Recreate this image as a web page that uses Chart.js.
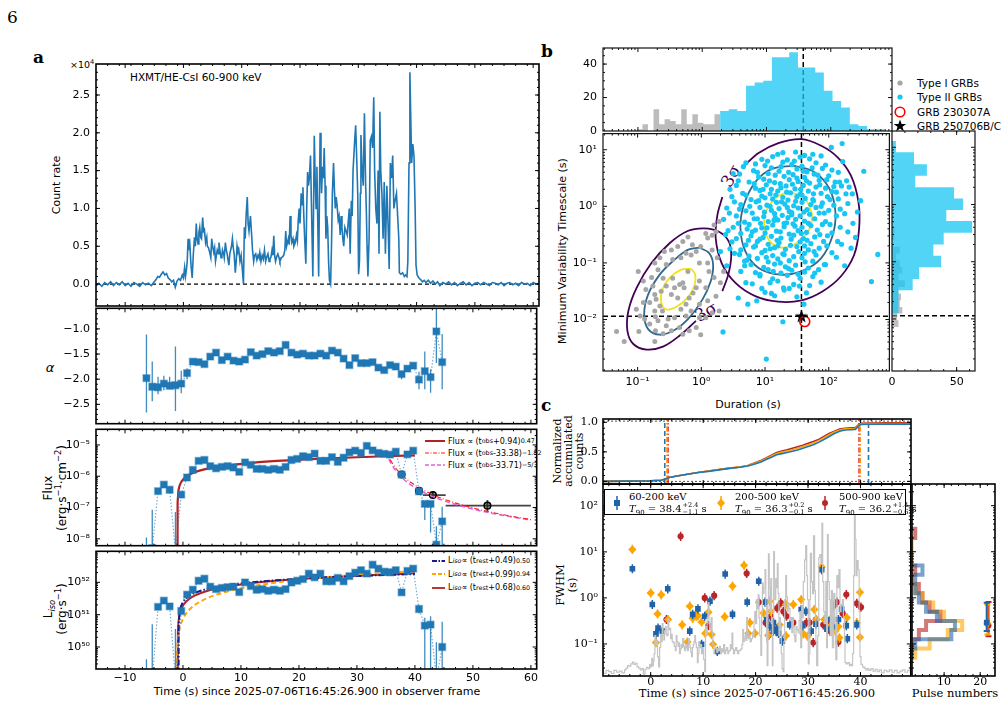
<!DOCTYPE html>
<html>
<head>
<meta charset="utf-8">
<script src="https://cdn.jsdelivr.net/npm/chart.js@4.4.1/dist/chart.umd.min.js"></script>
<style>
  body { margin: 0; background: #fff; }
  #fig { position: relative; width: 1006px; height: 705px; overflow: hidden; font-family: 'DejaVu Sans', sans-serif; color: #000; }
  #fig canvas { position: absolute; }
  .tx { position: absolute; white-space: nowrap; line-height: 1; }
  .mid { transform: translate(-50%, -50%); }
  .rot { transform: translate(-50%, -50%) rotate(-90deg); text-align: center; }
  .serif { font-family: 'DejaVu Serif', serif; }
  .lg { position: absolute; white-space: nowrap; }
  .lg > div { display: flex; align-items: center; }
  .lg svg { margin-right: 3px; flex: none; }
  sub, sup { font-size: 70%; line-height: 0; }
  .lg sub, .lg sup { font-size: 80%; }
  .ud { display: inline-flex; flex-direction: column; font-size: 6.5px; line-height: 7px; vertical-align: middle; margin-left: 1px; }
</style>
</head>
<body>
<div id="fig">
  <div class="tx serif" style="left:7px;top:9px;font-size:17px">6</div>
  <div class="tx serif" style="left:33px;top:49px;font-size:17px;font-weight:bold">a</div>
  <div class="tx serif" style="left:541px;top:43px;font-size:17px;font-weight:bold">b</div>
  <div class="tx serif" style="left:541px;top:397px;font-size:17px;font-weight:bold">c</div>

  <div class="tx" style="left:70px;top:60px;font-size:9.5px">×10<sup>4</sup></div>
  <div class="tx" style="left:130px;top:72px;font-size:10.5px">HXMT/HE-CsI 60-900 keV</div>
  <div class="tx rot" style="left:56px;top:185px;font-size:11px">Count rate</div>
  <div class="tx mid" style="left:50px;top:367px;font-size:13px;font-style:italic">α</div>
  <div class="tx rot" style="left:55px;top:488px;font-size:12px;line-height:14px">Flux<br>(erg·s<sup>−1</sup>·cm<sup>−2</sup>)</div>
  <div class="tx rot" style="left:55px;top:609px;font-size:12px;line-height:14px">L<sub><i>iso</i></sub><br>(erg·s<sup>−1</sup>)</div>
  <div class="tx mid" style="left:317px;top:691px;font-size:11px">Time (s) since 2025-07-06T16:45:26.900 in observer frame</div>

  <div class="lg" style="left:425px;top:435px;font-size:8px">
    <div style="height:12px"><svg width="20" height="6"><line x1="0" y1="3" x2="20" y2="3" stroke="#b22222" stroke-width="2"/></svg>Flux ∝ (t<sub>obs</sub>+0.94)<sup>0.47</sup></div>
    <div style="height:12px"><svg width="20" height="6"><line x1="0" y1="3" x2="20" y2="3" stroke="#ff1a1a" stroke-width="1.2" stroke-dasharray="4 1.5 1 1.5"/></svg>Flux ∝ (t<sub>obs</sub>-33.38)<sup>−1.82</sup></div>
    <div style="height:12px"><svg width="20" height="6"><line x1="0" y1="3" x2="20" y2="3" stroke="#e060e0" stroke-width="1.5" stroke-dasharray="4 2"/></svg>Flux ∝ (t<sub>obs</sub>-33.71)<sup>−5/3</sup></div>
  </div>
  <div class="lg" style="left:432px;top:554px;font-size:8px">
    <div style="height:13.5px"><svg width="13" height="6"><line x1="0" y1="3" x2="13" y2="3" stroke="#1a1a8c" stroke-width="1.8" stroke-dasharray="5 1.5 1.5 1.5"/></svg>L<sub><i>iso</i></sub> ∝ (t<sub>rest</sub>+0.49)<sup>0.50</sup></div>
    <div style="height:13.5px"><svg width="13" height="6"><line x1="0" y1="3" x2="13" y2="3" stroke="#ffa500" stroke-width="1.8" stroke-dasharray="4 2"/></svg>L<sub><i>iso</i></sub> ∝ (t<sub>rest</sub>+0.99)<sup>0.94</sup></div>
    <div style="height:13.5px"><svg width="13" height="6"><line x1="0" y1="3" x2="13" y2="3" stroke="#b22222" stroke-width="1.8"/></svg>L<sub><i>iso</i></sub> ∝ (t<sub>rest</sub>+0.68)<sup>0.60</sup></div>
  </div>

  <div class="tx rot" style="left:562px;top:251px;font-size:11px">Minimum Variability Timescale (s)</div>
  <div class="tx mid" style="left:748px;top:404px;font-size:11px">Duration (s)</div>
  <div class="tx mid serif" style="left:731px;top:176px;font-size:17px;color:#440154;transform:translate(-50%,-50%) rotate(-60deg)">3σ</div>
  <div class="tx mid serif" style="left:706px;top:312px;font-size:17px;color:#440154;transform:translate(-50%,-50%) rotate(-30deg)">3σ</div>
  <div class="lg" style="left:894px;top:76px;font-size:10.5px">
    <div style="height:14.3px"><svg width="20" height="10"><circle cx="6" cy="5" r="2.6" fill="#a6a6a6"/></svg>Type I GRBs</div>
    <div style="height:14.3px"><svg width="20" height="10"><circle cx="6" cy="5" r="2.6" fill="#17c6f2"/></svg>Type II GRBs</div>
    <div style="height:14.3px"><svg width="20" height="12"><circle cx="6" cy="6" r="4.8" fill="none" stroke="#ff0000" stroke-width="1.6"/></svg>GRB 230307A</div>
    <div style="height:14.3px"><svg width="20" height="14"><polygon points="6,0.5 7.6,5 12.2,5 8.5,7.8 9.9,12.5 6,9.6 2.1,12.5 3.5,7.8 -0.2,5 4.4,5" fill="#000"/></svg>GRB 250706B/C</div>
  </div>

  <div class="tx rot serif" style="left:568px;top:451px;font-size:11px;line-height:11px">Normalized<br>accumulated<br>counts</div>
  <div class="tx rot serif" style="left:566px;top:585px;font-size:11.5px;line-height:12px">FWHM<br>(s)</div>
  <div class="tx mid serif" style="left:757px;top:694px;font-size:11.5px">Time (s) since 2025-07-06T16:45:26.900</div>
  <div class="tx mid serif" style="left:955px;top:694px;font-size:11.5px">Pulse numbers</div>
</div>

<script>
// ---------------- panel a : light curve (x10^4 counts/s), [time, rate] ----------------
const lcPoints = [
  [-15,-0.02],[-14.5,0.01],[-14,-0.03],[-13.5,0.02],[-13,-0.01],[-12.5,0.03],[-12,-0.02],[-11.5,0.02],[-11,-0.01],[-10.5,0.03],
  [-10,-0.02],[-9.5,0.01],[-9,-0.03],[-8.5,0.02],[-8,0.0],[-7.5,-0.03],[-7,0.02],[-6.5,-0.01],[-6,0.01],[-5.5,-0.02],[-5,0.03],
  [-4.7,0.06],[-4.4,0.1],[-4.1,0.09],[-3.8,0.13],[-3.5,0.16],[-3.2,0.12],[-2.9,0.14],[-2.6,0.08],[-2.3,0.06],[-2.0,0.03],
  [-1.7,0.05],[-1.4,-0.04],[-1.1,0.04],[-0.8,0.07],[-0.5,0.05],[-0.2,0.12],
  [0.0,0.08],[0.2,0.22],[0.35,0.1],[0.5,0.18],[0.65,0.3],[0.8,0.6],[0.95,0.45],[1.1,0.52],[1.3,0.25],[1.5,0.08],
  [1.7,0.4],[1.9,0.62],[2.05,0.5],[2.2,0.8],[2.35,0.6],[2.5,0.53],[2.65,0.68],[2.8,0.75],[2.95,0.62],[3.1,0.6],
  [3.3,0.88],[3.45,0.7],[3.6,0.72],[3.8,0.55],[4.0,0.62],[4.1,0.5],[4.3,0.48],[4.5,0.42],[4.7,0.35],[4.85,0.6],
  [5.0,0.5],[5.2,0.42],[5.35,0.48],[5.5,0.3],[5.65,0.38],[5.8,0.45],[6.0,0.4],[6.1,0.55],[6.3,0.42],[6.45,0.35],
  [6.6,0.38],[6.7,0.45],[6.9,0.4],[7.0,0.35],[7.2,0.55],[7.35,0.45],[7.5,0.4],[7.65,0.32],[7.8,0.25],[7.95,0.4],
  [8.1,0.45],[8.25,0.5],[8.4,0.6],[8.55,0.48],[8.7,0.4],[8.9,0.15],[9.05,0.3],[9.2,0.5],[9.35,0.42],[9.5,0.45],
  [9.7,0.3],[9.9,0.38],[10.1,0.2],[10.3,0.0],[10.45,0.75],[10.6,0.6],[10.75,0.9],[10.95,1.15],[11.1,0.8],[11.25,0.7],
  [11.5,0.9],[11.7,0.65],[11.85,0.45],[12.05,0.3],[12.2,0.38],[12.4,0.4],[12.6,0.32],[12.8,0.38],[12.95,0.35],[13.1,0.42],
  [13.3,0.3],[13.5,0.38],[13.7,0.33],[13.9,0.45],[14.1,0.3],[14.3,0.36],[14.5,0.4],[14.7,0.3],[14.85,0.34],[15.0,0.35],
  [15.2,0.45],[15.35,0.38],[15.5,0.64],[15.65,0.38],[15.8,0.3],[16.0,0.36],[16.2,0.4],[16.4,0.35],[16.55,0.3],[16.8,0.35],
  [17.0,0.36],[17.2,0.38],[17.4,0.45],[17.55,0.7],[17.7,0.5],[17.85,0.55],[18.0,0.6],[18.15,0.52],[18.3,0.9],[18.45,0.65],
  [18.6,0.55],[18.8,0.6],[18.95,0.5],[19.2,0.55],[19.4,0.65],[19.55,0.58],[19.7,0.85],[19.85,1.0],[20.0,0.8],[20.2,1.2],
  [20.35,1.05],[20.5,1.28],[20.65,0.9],[20.8,0.6],[21.0,0.27],[21.15,1.0],[21.3,1.48],[21.45,1.3],[21.6,1.4],[21.8,1.7],
  [21.95,1.1],[22.1,0.5],[22.2,0.1],[22.35,1.2],[22.45,1.96],[22.6,1.4],[22.75,1.0],[22.9,1.55],[23.05,0.8],[23.2,0.1],
  [23.3,0.9],[23.45,2.0],[23.6,1.5],[23.7,1.2],[23.85,1.55],[24.0,1.4],[24.15,1.8],[24.3,1.3],[24.45,0.6],[24.6,0.9],
  [24.75,0.75],[24.9,0.3],[25.05,0.05],[25.25,0.0],[25.4,0.5],[25.55,1.2],[25.75,1.6],[25.9,1.25],[26.05,1.0],[26.2,1.15],
  [26.35,1.05],[26.55,0.85],[26.7,0.9],[26.9,0.65],[27.05,0.9],[27.2,0.75],[27.35,0.6],[27.5,0.5],[27.7,0.75],[27.9,0.7],
  [28.1,0.65],[28.3,0.85],[28.45,1.0],[28.6,0.4],[28.8,1.1],[28.95,0.9],[29.1,1.5],[29.35,1.86],[29.55,2.1],[29.75,1.6],
  [29.9,1.2],[30.05,0.13],[30.2,0.3],[30.35,1.2],[30.45,1.97],[30.65,1.5],[30.85,1.3],[31.05,2.26],[31.25,1.35],[31.4,0.9],
  [31.5,0.5],[31.65,0.1],[31.85,0.6],[32.05,1.9],[32.25,1.95],[32.45,1.8],[32.65,2.47],[32.8,1.5],[33.0,1.0],[33.2,0.8],
  [33.4,1.5],[33.55,0.4],[33.7,2.28],[33.85,1.5],[34.05,1.2],[34.25,0.6],[34.45,1.35],[34.65,0.4],[34.9,1.3],[35.1,0.8],
  [35.3,0.2],[35.5,1.6],[35.7,1.4],[35.9,1.7],[36.1,1.0],[36.3,1.1],[36.55,1.2],[36.75,0.9],[36.95,0.6],[37.05,0.15],
  [37.3,0.13],[37.6,0.15],[37.9,0.1],[38.1,0.12],[38.35,0.1],[38.5,0.3],[38.7,1.6],[38.85,2.8],[39.0,2.2],[39.15,1.6],
  [39.35,1.85],[39.55,1.7],[39.75,1.0],[39.9,0.25],[40.1,0.12],[40.4,0.08],[40.7,0.06],[41.0,0.03],[41.3,0.05],[41.6,0.02],
  [42.0,0.05],[42.4,0.01],[42.8,0.04],[43.2,0.0],[43.6,0.03],[44.0,-0.02],[44.5,0.02],[45,0.0],[45.5,0.03],[46,-0.01],
  [46.5,0.02],[47,-0.02],[47.5,0.01],[48,0.03],[48.5,-0.01],[49,0.02],[49.5,-0.02],[50,0.01],[50.5,0.02],[51,-0.01],
  [51.5,0.02],[52,0.0],[52.5,-0.02],[53,0.02],[53.5,0.01],[54,-0.01],[54.5,0.02],[55,-0.02],[55.5,0.01],[56,0.02],
  [56.5,-0.01],[57,0.01],[57.5,-0.02],[58,0.02],[58.5,0.0],[59,0.01],[59.5,-0.02],[60,0.02],[60.5,0.0],[61,0.01]
];

// time-resolved spectral bins
const binTime = [-6.3,-5.3,-4.3,-3.3,-2.3,-1.3,-0.3,0.7,1.7,2.7,3.7,4.7,5.7,6.7,7.7,8.7,9.7,10.7,11.7,12.7,13.7,14.7,15.7,16.7,17.7,18.7,19.7,20.7,21.7,22.7,23.7,24.7,25.7,26.7,27.7,28.7,29.7,30.7,31.7,32.7,33.7,34.7,35.7,36.7,37.7,38.7,39.7,40.7,41.7,42.7,43.7,44.7];
const alphaVals = [-1.98,-2.15,-2.16,-2.09,-2.13,-2.12,-2.09,-1.88,-1.65,-1.66,-1.70,-1.55,-1.47,-1.62,-1.55,-1.63,-1.65,-1.61,-1.46,-1.53,-1.50,-1.44,-1.47,-1.44,-1.32,-1.47,-1.51,-1.49,-1.53,-1.53,-1.49,-1.53,-1.43,-1.47,-1.59,-1.72,-1.58,-1.68,-1.68,-1.66,-1.77,-1.82,-1.72,-1.75,-1.90,-1.79,-1.73,-2.01,-1.84,-1.96,-1.05,-1.66];
const fluxVals = [3e-9,5e-9,3.35e-7,5.4e-7,3.7e-7,4e-9,2.6e-7,9.1e-7,1.6e-6,3.1e-6,3.3e-6,2.1e-6,1.8e-6,2.0e-6,2.1e-6,1.9e-6,1.37e-6,2.76e-6,2.3e-6,1.73e-6,1.73e-6,1.6e-6,1.73e-6,1.6e-6,2.0e-6,3.3e-6,3.6e-6,4.4e-6,4.1e-6,5.3e-6,3.1e-6,3.1e-6,4.1e-6,2.9e-6,3.9e-6,5.8e-6,6.6e-6,5.6e-6,9.3e-6,6.7e-6,5.6e-6,5.2e-6,4.9e-6,6.1e-6,1.13e-6,5.0e-6,6.6e-6,3.3e-7,1.3e-7,1.3e-7,6.5e-9,3.6e-8];
const lisoVals = [1e49,1e49,1.74e51,2.7e51,1.8e51,1e49,1.3e51,4.2e51,5.9e51,1.12e52,1.29e52,7.4e51,6.2e51,6.7e51,7.1e51,7.4e51,5.0e51,1.0e52,7.7e51,5.9e51,6.2e51,5.5e51,5.9e51,5.5e51,6.2e51,9.8e51,1.12e52,1.26e52,1.87e52,1.42e52,1.87e52,1.07e52,1.07e52,1.38e52,1.07e52,1.56e52,2.0e52,2.37e52,1.87e52,3.5e52,2.66e52,2.15e52,2.05e52,2.37e52,4.9e51,2.25e52,2.66e52,1.5e51,4.6e50,4.9e50,1e49,1.0e50];
// visible error bars: [time, low, high]
const alphaErr = [[-6.3,-2.66,-1.11],[-5.3,-2.44,-1.65],[-4.3,-2.3,-1.95],[-3.3,-2.22,-1.93],[-2.3,-2.2,-1.95],[-1.3,-2.63,-1.35],[-0.3,-2.28,-1.83],[0.7,-2.0,-1.78],[37.7,-2.0,-1.83],[40.7,-2.2,-1.85],[41.7,-2.2,-1.45],[42.7,-2.27,-1.8],[43.7,-1.68,-0.4],[44.7,-2.2,-1.1]];
const fluxErr = [[-6.3,1e-10,1.1e-8],[-5.3,1e-10,8.5e-8],[-1.3,1e-10,7.2e-8],[41.7,4e-8,1.6e-7],[42.7,1.6e-8,1.6e-7],[43.7,1e-10,2.5e-8],[44.7,1e-10,1.05e-7]];
const lisoErr = [[-6.3,1e47,4.2e49],[-5.3,1e47,5.1e50],[-1.3,1e47,3.6e50],[40.7,1.1e51,2.0e51],[41.7,1e47,8e50],[42.7,1e47,9e50],[43.7,1e47,1.4e50],[44.7,1e47,6e50]];
// other-instrument flux points
const extTime = [37.7, 40.7, 43.1, 52.5];
const extFlux = [1.13e-6, 3.4e-7, 2.5e-7, 1.15e-7];
const extTimeErr = [null, null, [41.4, 45.3], [45.3, 60]];
const extFluxErr = [[0.95e-6, 1.3e-6], [3.0e-7, 3.9e-7], [1.9e-7, 3.3e-7], [7.5e-8, 1.75e-7]];
// fitted curves
const fitRiseT = [-0.94,-0.93,-0.9,-0.8,-0.6,-0.2,0.5,1.5,3,5,8,12,17,23,30,35,40];
const fitRiseF = [1e-10,9.3e-8,1.78e-7,3.2e-7,4.86e-7,7.0e-7,9.6e-7,1.23e-6,1.54e-6,1.86e-6,2.26e-6,2.69e-6,3.14e-6,3.59e-6,4.05e-6,4.35e-6,4.62e-6];
const fitDecayT = [35,35.5,36,37,38,40,42,45,50,55,60];
const fitDecayF = [6.7e-6,4.1e-6,2.79e-6,1.55e-6,9.9e-7,5.2e-7,3.2e-7,1.85e-7,9.7e-8,6.0e-8,4.1e-8];
const fitTurbT = [35.5,36,37,38,40,42,45,50,55,60];
const fitTurbF = [3.5e-6,2.34e-6,1.28e-6,8.2e-7,4.33e-7,2.74e-7,1.64e-7,8.9e-8,5.7e-8,4.0e-8];
const fitL1T = [-0.75,-0.74,-0.7,-0.6,-0.4,0,1,2,4,7,10,15,20,25,30,35,40];
const fitL1V = [1e48,2.8e50,6.3e50,1.09e51,1.67e51,2.44e51,3.73e51,4.68e51,6.15e51,7.85e51,9.25e51,1.12e52,1.28e52,1.43e52,1.56e52,1.69e52,1.8e52];
const fitL2T = [-1.1,-1.05,-1.0,-0.9,-0.7,-0.4,0,1,2,4,7,10,15,20,25,30,35,40];
const fitL2V = [1e48,4.1e49,7.8e49,1.5e50,2.88e50,4.87e50,7.45e50,1.37e51,1.97e51,3.15e51,4.86e51,6.54e51,9.28e51,1.2e52,1.46e52,1.72e52,1.98e52,2.24e52];
const fitL3T = [-0.9,-0.89,-0.85,-0.8,-0.7,-0.5,-0.2,0.2,1,2,4,7,10,15,20,25,30,35,40];
const fitL3V = [1e48,1.29e50,3.4e50,5.15e50,7.8e50,1.18e51,1.65e51,2.17e51,3.0e51,3.88e51,5.32e51,7.08e51,8.6e51,1.08e52,1.27e52,1.44e52,1.6e52,1.76e52,1.9e52];

// ---------------- panel b : log10(duration), log10(MVT) ----------------
const typeI = [[-1.33,-2.21],[-1.21,-2.39],[-0.98,-2.21],[-0.73,-2.39],[-0.72,-2.20],[-0.99,-1.15],[-0.91,-1.32],[-0.87,-1.47],[-0.78,-1.26],[-0.76,-1.41],
  [-0.73,-1.56],[-0.71,-1.64],[-0.65,-1.76],[-0.61,-1.85],[-0.73,-1.85],[-0.72,-1.95],[-0.96,-1.94],[-0.81,-2.08],[-0.52,-1.99],[-0.42,-1.97],
  [-0.32,-1.82],[-0.24,-1.73],[-0.19,-1.62],[-0.27,-1.44],[-0.34,-1.38],[-0.42,-1.44],[-0.47,-1.56],[-0.55,-1.41],[-0.60,-1.27],[-0.68,-1.12],
  [-0.73,-1.00],[-0.55,-1.03],[-0.45,-0.94],[-0.32,-0.91],[-0.24,-0.83],[-0.16,-0.86],[-0.08,-0.80],[-0.01,-0.71],[0.10,-0.56],[0.07,-0.48],
  [0.17,-0.51],[0.23,-0.45],[0.20,-0.33],[0.28,-0.27],[0.17,-0.77],[0.25,-0.91],[0.12,-1.15],[0.20,-1.26],[-0.03,-1.32],[-0.08,-1.44],
  [-0.13,-1.53],[-0.03,-1.73],[0.17,-1.88],[0.07,-1.97],[-0.16,-1.85],[-0.24,-1.94],[-0.34,-2.14],[-0.47,-2.20],[-0.08,-2.14],[-0.01,-2.27],
  [-0.65,-0.91],[-0.58,-0.80],[-0.47,-0.77],[-0.37,-0.71],[-0.29,-0.62],[-0.21,-0.54],[-0.14,-0.68],[-0.03,-1.00],[0.07,-1.44],[0.30,-1.35],
  [0.35,-1.15],[-0.81,-1.70],[-0.91,-1.70],[-1.02,-1.82],[-0.55,-2.11],[-0.37,-1.62],[-0.29,-1.35],[-0.21,-1.15],[-0.45,-1.27],[-0.63,-1.50],
  [0.10,-1.67],[0.28,-1.85],[0.23,-1.59],[-0.89,-1.99],[-0.68,-2.02],[-0.19,-2.20],[-0.29,-2.26],[-0.60,-2.25],[-0.03,-1.97],[0.10,-1.00]];
const typeII = [[1.20,0.92],[1.48,0.96],[1.62,0.90],
  [0.95,0.83],[1.12,0.88],[1.35,0.82],[1.55,0.87],[1.70,0.84],[1.88,0.89],
  [0.70,0.77],[1.00,0.72],[1.28,0.78],[1.42,0.74],[1.58,0.71],[1.80,0.77],[1.95,0.73],
  [0.82,0.63],[1.10,0.68],[1.22,0.62],[1.50,0.66],[1.66,0.61],[1.90,0.67],[2.05,0.64],
  [0.60,0.57],[0.90,0.52],[1.05,0.58],[1.30,0.53],[1.44,0.56],[1.62,0.51],[1.77,0.57],[2.00,0.54],
  [0.75,0.43],[0.98,0.48],[1.15,0.42],[1.38,0.47],[1.52,0.44],[1.70,0.41],[1.85,0.46],[2.10,0.43],
  [0.55,0.37],[0.85,0.32],[1.02,0.38],[1.25,0.33],[1.33,0.36],[1.47,0.31],[1.60,0.37],[1.80,0.34],[1.95,0.32],[2.20,0.36],
  [0.65,0.23],[0.92,0.28],[1.08,0.22],[1.20,0.27],[1.40,0.24],[1.55,0.21],[1.68,0.27],[1.88,0.23],[2.05,0.26],
  [0.48,0.17],[0.78,0.12],[0.95,0.18],[1.12,0.13],[1.28,0.16],[1.36,0.11],[1.50,0.17],[1.63,0.14],[1.75,0.12],[1.98,0.17],[2.15,0.13],
  [0.62,0.03],[0.86,0.08],[1.03,0.02],[1.18,0.07],[1.31,0.04],[1.45,0.01],[1.58,0.07],[1.72,0.03],[1.90,0.06],[2.08,0.02],[2.30,0.05],
  [0.40,-0.03],[0.70,-0.08],[0.92,-0.02],[1.10,-0.07],[1.22,-0.04],[1.38,-0.09],[1.52,-0.03],[1.66,-0.06],[1.80,-0.02],[2.00,-0.07],
  [0.55,-0.17],[0.80,-0.12],[0.98,-0.18],[1.15,-0.13],[1.27,-0.16],[1.42,-0.11],[1.55,-0.17],[1.70,-0.14],[1.85,-0.12],[2.12,-0.17],[2.25,-0.13],
  [0.35,-0.23],[0.68,-0.28],[0.88,-0.22],[1.05,-0.27],[1.20,-0.24],[1.34,-0.29],[1.48,-0.23],[1.62,-0.26],[1.78,-0.22],[1.95,-0.27],
  [0.50,-0.37],[0.75,-0.32],[0.95,-0.38],[1.12,-0.33],[1.30,-0.36],[1.44,-0.31],[1.58,-0.37],[1.72,-0.34],[1.90,-0.32],[2.18,-0.37],
  [0.42,-0.43],[0.62,-0.48],[0.85,-0.42],[1.00,-0.47],[1.18,-0.44],[1.38,-0.49],[1.52,-0.43],[1.65,-0.46],[1.82,-0.42],[2.05,-0.47],
  [0.55,-0.57],[0.78,-0.52],[0.92,-0.58],[1.10,-0.53],[1.25,-0.56],[1.45,-0.51],[1.60,-0.57],[1.78,-0.54],[1.98,-0.52],
  [0.48,-0.63],[0.70,-0.68],[0.88,-0.62],[1.05,-0.67],[1.22,-0.64],[1.40,-0.69],[1.55,-0.63],[1.72,-0.66],[1.92,-0.62],[2.20,-0.67],
  [0.62,-0.77],[0.82,-0.72],[1.00,-0.78],[1.15,-0.73],[1.32,-0.76],[1.50,-0.71],[1.68,-0.77],[1.85,-0.74],
  [0.52,-0.83],[0.75,-0.88],[0.95,-0.82],[1.12,-0.87],[1.28,-0.84],[1.45,-0.89],[1.62,-0.83],[1.80,-0.86],[2.05,-0.82],
  [0.68,-0.97],[0.88,-0.92],[1.05,-0.98],[1.20,-0.93],[1.38,-0.96],[1.58,-0.91],[1.75,-0.97],
  [0.78,-1.03],[0.98,-1.08],[1.15,-1.02],[1.32,-1.07],[1.48,-1.04],[1.68,-1.09],[1.95,-1.03],
  [0.85,-1.17],[1.05,-1.12],[1.25,-1.18],[1.42,-1.13],[1.62,-1.16],
  [0.92,-1.23],[1.12,-1.28],[1.35,-1.22],[1.55,-1.27],[1.75,-1.24],
  [0.80,-1.37],[1.20,-1.32],[1.45,-1.38],[1.88,-1.34],[1.00,-1.52],[1.30,-1.48],[1.65,-1.53],[0.58,-1.62],[1.15,-1.58],
  [2.67,-1.33],[2.77,-0.85],[2.21,1.11],[2.55,0.62],[1.02,-2.70],[0.34,-2.22],[1.28,-2.04],[0.68,-1.05],[0.73,-1.73],[0.87,-1.67],
  [1.10,-1.54],[1.29,-1.44],[1.54,-1.41],[1.61,-1.73],[1.78,-1.18],[1.93,-1.03],[2.14,-0.62],[2.35,-0.74],[2.37,0.22],[2.32,0.34],
  [2.17,0.43],[2.04,1.04],[2.22,0.79],
  [0.45,0.30],[0.58,0.45],[0.66,0.70],[0.88,0.60],[1.04,0.80],[1.16,0.55],[1.25,0.70],[1.37,0.60],[1.46,0.80],[1.60,0.62],
  [1.74,0.68],[1.83,0.55],[1.97,0.47],[2.08,0.35],[2.27,0.22],[0.52,0.08],[0.70,0.20],[0.83,0.40],[0.97,0.30],[1.07,0.45],
  [1.17,0.20],[1.24,0.40],[1.34,0.25],[1.43,0.39],[1.56,0.30],[1.65,0.45],[1.76,0.22],[1.86,0.38],[2.02,0.12],[2.12,0.25],
  [0.44,-0.12],[0.60,-0.05],[0.76,0.00],[0.90,0.10],[0.99,-0.10],[1.08,0.00],[1.16,-0.20],[1.26,0.08],[1.35,-0.02],[1.48,0.09],
  [1.61,-0.10],[1.76,0.10],[1.93,-0.12],[2.18,-0.05],[2.38,-0.30],[0.38,-0.50],[0.58,-0.30],[0.72,-0.40],[0.83,-0.22],[0.93,-0.30],
  [1.03,-0.38],[1.14,-0.25],[1.24,-0.45],[1.36,-0.20],[1.47,-0.35],[1.57,-0.48],[1.68,-0.30],[1.86,-0.50],[2.02,-0.32],[2.30,-0.45],
  [0.45,-0.75],[0.60,-0.85],[0.74,-0.60],[0.85,-0.70],[0.97,-0.55],[1.08,-0.75],[1.19,-0.60],[1.30,-0.85],[1.41,-0.58],[1.53,-0.80],
  [1.66,-0.60],[1.77,-0.80],[1.97,-0.70],[2.12,-0.90],[0.62,-1.15],[0.72,-0.95],[0.92,-1.20],[1.02,-0.90],[1.13,-1.15],[1.24,-1.00],
  [1.37,-1.10],[1.52,-1.20],[1.63,-0.98],[1.84,-1.12],[1.08,-1.35],[1.38,-1.45],[0.95,-1.45],[1.70,-1.40],[1.28,0.95],[1.75,0.92],
  [0.85,0.75],[2.15,0.60],[2.28,0.45],[0.50,0.58],[2.45,-0.10],[2.42,-0.55],[0.30,-0.80],[0.40,-1.05],[2.25,-1.05],[1.50,-1.60],
  [0.70,-1.35],[2.50,0.10],[1.10,0.30],[1.30,-0.30],[1.50,0.50],[1.20,-0.70],[1.42,-0.15],[0.80,-0.45],[1.58,0.20],[1.00,0.15],
  [1.88,0.00],[1.62,-0.70]];
// sigma contours, log10 units
const ctrII3 = [[0.650,0.691],[0.899,0.942],[1.209,1.117],[1.571,1.187],[1.882,1.070],[2.140,0.866],[2.347,0.545],[2.466,0.078],[2.477,-0.389],[2.399,-0.856],[2.192,-1.236],[1.907,-1.499],[1.571,-1.662],[1.209,-1.685],[0.847,-1.586],[0.536,-1.353],[0.319,-1.002],[0.226,-0.565],[0.252,-0.156],[0.330,0.165]];
const ctrII2 = [[1.442,0.720],[1.778,0.603],[2.011,0.311],[2.104,-0.097],[2.063,-0.506],[1.882,-0.915],[1.571,-1.148],[1.235,-1.207],[0.899,-1.090],[0.692,-0.798],[0.614,-0.389],[0.666,0.019],[0.847,0.428],[1.106,0.661],[1.442,0.720]];
const ctrII1 = [[1.416,0.241],[1.597,0.165],[1.700,-0.010],[1.737,-0.214],[1.675,-0.448],[1.494,-0.652],[1.261,-0.728],[1.080,-0.623],[0.992,-0.389],[1.012,-0.097],[1.157,0.136],[1.287,0.224],[1.416,0.241]];
const ctrI3 = [[-0.084,-2.024],[-0.343,-2.287],[-0.602,-2.479],[-0.860,-2.532],[-1.067,-2.433],[-1.160,-2.199],[-1.145,-1.849],[-1.016,-1.440],[-0.783,-1.002],[-0.498,-0.652],[-0.214,-0.436],[0.045,-0.389],[0.278,-0.448],[0.433,-0.623],[0.469,-0.886],[0.423,-1.207],[0.330,-1.499]];
const ctrI2 = [[-0.033,-0.728],[0.123,-0.827],[0.185,-1.032],[0.148,-1.323],[0.019,-1.644],[-0.188,-1.966],[-0.421,-2.187],[-0.653,-2.269],[-0.834,-2.170],[-0.897,-1.907],[-0.834,-1.557],[-0.653,-1.207],[-0.421,-0.944],[-0.214,-0.769],[-0.033,-0.728]];
const ctrI1 = [[-0.162,-1.102],[-0.095,-1.207],[-0.110,-1.411],[-0.214,-1.615],[-0.395,-1.779],[-0.550,-1.820],[-0.628,-1.703],[-0.612,-1.469],[-0.498,-1.265],[-0.317,-1.119],[-0.162,-1.102]];
// marginal histograms (log10 bin edges, counts)
const durEdgesI = [-1.016,-0.929,-0.843,-0.757,-0.670,-0.585,-0.498,-0.412,-0.326,-0.240,-0.153,-0.067,0.019,0.106,0.191,0.278];
const durCountsI = [1,4,0,13,4,7,6,4,13,4,10,5,4,4,10];
const durEdgesII = [0.278,0.413,0.547,0.682,0.816,0.951,1.085,1.220,1.354,1.489,1.623,1.758,1.892,2.027,2.161,2.296,2.430,2.565,2.699,2.834];
const durCountsII = [12,13,12,27,29,30,44,44,47,38,38,35,24,18,14,4,3,1,1];
const mvtEdgesII = [1.111,0.912,0.702,0.504,0.300,0.107,-0.097,-0.290,-0.494,-0.699,-0.897,-1.096,-1.300,-1.499,-1.703,-1.907];
const mvtCountsII = [3,17,27,18,48,55,42,62,40,32,38,21,16,5,5];
const mvtEdgesI = [-0.389,-0.506,-0.623,-0.740,-0.856,-0.973,-1.090,-1.207,-1.323,-1.440,-1.557,-1.674,-1.790,-1.907,-2.024,-2.141];
const mvtCountsI = [2,2,0,6,3,6,8,5,10,5,7,6,8,4,5];
// the two highlighted bursts: [duration s, MVT s]
const grbNew = [37.3, 0.0114];
const grbOld = [42.0, 0.0092];

// ---------------- panel c ----------------
const cumTime = [-9,-5,0,2,2.6,3.0,3.5,5,7,9,11,13,15,17,18.5,20,21,22,23,24,25,26,27,28,29,30,31,32,33,34,35,36,37,38,39,39.8,40.2,41.5,45,49.6];
const cumBlue = [0,0.005,0.01,0.02,0.035,0.05,0.065,0.09,0.12,0.15,0.17,0.195,0.22,0.24,0.26,0.30,0.33,0.37,0.41,0.45,0.47,0.49,0.51,0.53,0.56,0.59,0.62,0.66,0.71,0.76,0.81,0.85,0.87,0.875,0.88,0.95,0.965,0.968,0.97,0.97];
const cumOrange = [0,0.005,0.01,0.02,0.035,0.05,0.065,0.09,0.12,0.15,0.175,0.2,0.225,0.245,0.27,0.31,0.345,0.385,0.43,0.47,0.495,0.515,0.535,0.56,0.59,0.62,0.65,0.69,0.74,0.79,0.835,0.87,0.89,0.895,0.9,0.965,0.975,0.978,0.98,0.98];
const cumRed = [0,0.005,0.01,0.02,0.035,0.05,0.065,0.09,0.12,0.15,0.175,0.2,0.225,0.245,0.27,0.32,0.355,0.395,0.445,0.49,0.515,0.535,0.56,0.585,0.61,0.645,0.675,0.71,0.76,0.81,0.85,0.885,0.9,0.905,0.91,0.975,0.985,0.988,0.99,0.99];
const t90Start = [2.67, 3.1, 3.3];   // blue, orange, red
const t90End = [41.5, 39.9, 39.7];
// pulse FWHM: [peak time s, FWHM s]
const pulsesLow = [[-3.5,4.3],[0.3,0.72],[1.0,0.166],[1.4,0.22],[2.2,0.19],[3.25,1.58],[7.45,0.19],[8.0,0.44],[9.0,0.58],[9.7,0.098],[10.3,0.4],[11.3,0.85],[12.7,0.069],[14.2,3.3],[15.6,0.44],[18.4,0.81],[20.6,2.3],[21.8,0.81],[22.1,0.34],[22.7,0.24],[23.4,0.29],[23.4,0.19],[24.0,0.21],[24.4,0.17],[25.1,0.115],[26.5,0.26],[28.7,0.56],[29.0,0.25],[29.6,0.51],[30.6,0.19],[31.5,0.27],[32.6,4.1],[33.6,0.21],[34.3,0.34],[34.7,0.24],[35.8,0.34],[36.4,0.57],[37.3,0.25],[37.5,0.13],[39.3,0.26]];
const pulsesMid = [[-3.5,11.3],[0.0,1.28],[1.0,0.107],[1.3,0.45],[2.0,1.17],[3.3,0.34],[6.0,0.26],[7.0,0.11],[7.45,0.66],[8.0,0.36],[8.7,0.4],[9.0,0.41],[9.7,0.3],[10.4,0.17],[11.0,0.49],[11.6,0.16],[11.9,0.098],[14.1,0.39],[15.6,1.8],[17.8,5.1],[18.6,0.17],[18.9,0.29],[19.9,0.17],[21.5,0.47],[22.4,0.155],[22.7,0.85],[22.9,0.51],[23.4,0.24],[24.6,0.26],[25.8,0.72],[25.8,0.15],[27.2,0.72],[28.7,0.92],[29.1,0.166],[29.9,0.147],[31.2,0.56],[31.6,0.34],[32.6,4.7],[33.1,0.34],[34.2,0.24],[35.2,0.19],[35.8,0.24],[36.0,0.136],[37.4,0.37],[39.3,0.29],[39.9,1.32],[39.9,0.14]];
const pulsesHigh = [[3.0,0.34],[5.7,21.8],[10.3,1.0],[11.0,0.25],[12.1,1.12],[18.3,3.4],[20.6,0.81],[21.9,0.29],[22.5,0.155],[22.9,0.4],[23.5,0.22],[23.9,0.19],[24.1,0.6],[24.8,0.78],[25.3,0.51],[25.9,0.4],[27.2,0.29],[29.7,0.29],[30.3,0.29],[31.0,0.107],[31.5,0.34],[32.9,0.26],[34.1,0.31],[34.2,0.19],[34.8,0.66],[35.5,0.81],[35.8,0.11],[36.6,0.46],[37.3,1.18],[39.3,0.76],[40.1,0.63]];
const fwhmErrDex = 0.1;
// pulse-number histograms of log10(FWHM)
const pulseEdgesLow = [0.7,0.5,0.3,0.1,-0.1,-0.3,-0.5,-0.7,-0.9,-1.1,-1.3];
const pulseCountsLow = [4,2,2,3,5,8,13,12,2,1];
const pulseEdgesMid = [1.3,1.1,0.9,0.7,0.5,0.3,0.1,-0.1,-0.3,-0.5,-0.7,-0.9,-1.1,-1.3];
const pulseCountsMid = [1,1,1,1,1,2,4,7,10,15,11,6,2];
const pulseEdgesHigh = [1.5,1.3,1.1,0.9,0.7,0.5,0.3,0.1,-0.1,-0.3,-0.5,-0.7,-0.9,-1.1];
const pulseCountsHigh = [2,0,0,0,2,1,3,4,6,9,5,3,1];
// summary markers next to the histograms: [x, median, low, high]
const pulseStats = [[21.8,0.29,0.19,0.78],[22.0,0.28,0.16,0.72],[22.3,0.25,0.147,0.81]];

// ---------------- axis limits and ticks ----------------
const tRangeA = [-15, 61];
const rateRange = [-0.29, 2.91], alphaRange = [-2.885, -0.59];
const fluxRange = [10 ** -8.22, 10 ** -4.5], lisoRange = [10 ** 49.32, 10 ** 52.96];
const durRange = [10 ** -1.543, 10 ** 2.952], mvtRange = [10 ** -2.91, 10 ** 1.285];
const durCountRange = [0, 49.6], mvtCountRange = [0, 64.2];
const tRangeC = [-9.1, 49.6], cumRange = [-0.044, 1.056], fwhmRange = [10 ** -1.696, 10 ** 2.47];
const lcRangeC = [-0.072, 3.12], pulseRange = [1.1, 24.1];
const aTimeTicks = [-10, 0, 10, 20, 30, 40, 50, 60];
const rateTicks = [0, 0.5, 1, 1.5, 2, 2.5];
const alphaTicks = [-2.5, -2, -1.5, -1];
const fluxTicks = [1e-8, 1e-7, 1e-6, 1e-5];
const lisoTicks = [1e50, 1e51, 1e52];
const durTicks = [0.1, 1, 10, 100], mvtTicks = [0.01, 0.1, 1, 10];
const durCountTicks = [0, 20, 40], mvtCountTicks = [0, 50];
const cTimeTicks = [0, 10, 20, 30, 40], cumTicks = [0, 0.5, 1];
const fwhmTicks = [0.1, 1, 10, 100], pulseTicks = [10, 20];

// ---------------- helpers ----------------
const SUP = {'-': '⁻', '0': '⁰', '1': '¹', '2': '²', '3': '³', '4': '⁴', '5': '⁵', '6': '⁶', '7': '⁷', '8': '⁸', '9': '⁹'};
const decLabel = v => '10' + String(Math.round(Math.log10(v))).split('').map(c => SUP[c]).join('');
const numLabel = d => v => (v < 0 ? '\u2212' : '') + Math.abs(v).toFixed(d);
const logMinor = (e0, e1) => { const o = []; for (let e = e0; e <= e1; e++) for (let k = 2; k <= 9; k++) o.push(k * 10 ** e); return o; };
const linMinor = (a, b, s) => { const o = []; for (let v = a; v <= b + 1e-9; v += s) o.push(+v.toFixed(6)); return o; };
const pts = (xs, ys) => xs.map((x, i) => ({x, y: ys[i]}));
const pairPts = arr => arr.map(([x, y]) => ({x, y}));
const logPts = arr => arr.map(([a, b]) => ({x: 10 ** a, y: 10 ** b}));
const errFor = list => binTime.map(t => { const e = list.find(r => r[0] === t); return e ? [e[1], e[2]] : null; });
function stepHist(edges, counts, horizontal) {
  const p = [[edges[0], 0]];
  counts.forEach((c, i) => p.push([edges[i], c]));
  p.push([edges[edges.length - 1], 0]);
  return p.map(([e, c]) => horizontal ? {x: c, y: 10 ** e} : {x: 10 ** e, y: c});
}
const line = (data, color, width, extra) => Object.assign({data, showLine: true, borderColor: color, borderWidth: width, pointRadius: 0, fill: false}, extra || {});

// error bars drawn under each dataset's markers
const errBars = {
  id: 'errBars',
  beforeDatasetDraw(chart, args) {
    const ds = chart.data.datasets[args.index];
    if (!ds.errY && !ds.errX) return;
    const meta = args.meta, xs = chart.scales[meta.xAxisID], ys = chart.scales[meta.yAxisID];
    const ctx = chart.ctx, a = chart.chartArea;
    ctx.save();
    ctx.beginPath(); ctx.rect(a.left, a.top, a.right - a.left, a.bottom - a.top); ctx.clip();
    ctx.strokeStyle = ds.errColor; ctx.lineWidth = ds.errWidth || 1;
    const cap = ds.errCap || 0;
    meta.data.forEach((p, i) => {
      const ey = ds.errY && ds.errY[i], ex = ds.errX && ds.errX[i];
      ctx.beginPath();
      if (ey) {
        const y1 = ys.getPixelForValue(ey[0]), y2 = ys.getPixelForValue(ey[1]);
        ctx.moveTo(p.x, y1); ctx.lineTo(p.x, y2);
        if (cap) { ctx.moveTo(p.x - cap, y1); ctx.lineTo(p.x + cap, y1); ctx.moveTo(p.x - cap, y2); ctx.lineTo(p.x + cap, y2); }
      }
      if (ex) {
        const x1 = xs.getPixelForValue(ex[0]), x2 = xs.getPixelForValue(ex[1]);
        ctx.moveTo(x1, p.y); ctx.lineTo(x2, p.y);
      }
      ctx.stroke();
    });
    ctx.restore();
  }
};

// frame and inward ticks (matplotlib style)
const frameCfg = {};
const frameTicks = {
  id: 'frameTicks',
  afterDatasetsDraw(chart) {
    const cfg = frameCfg[chart.canvas.id];
    if (!cfg) return;
    const {ctx, chartArea: a} = chart;
    ctx.save();
    ctx.strokeStyle = cfg.color || '#000';
    ctx.lineWidth = 1;
    for (const ax of cfg.axes) {
      const s = chart.scales[ax.id];
      const horiz = s.isHorizontal();
      const mark = (v, len) => {
        const p = s.getPixelForValue(v);
        if (!isFinite(p)) return;
        if (horiz ? (p < a.left + 1 || p > a.right - 1) : (p < a.top + 1 || p > a.bottom - 1)) return;
        if (horiz) {
          if (ax.sides.includes('b')) { ctx.moveTo(p, a.bottom); ctx.lineTo(p, a.bottom - len); }
          if (ax.sides.includes('t')) { ctx.moveTo(p, a.top); ctx.lineTo(p, a.top + len); }
        } else {
          if (ax.sides.includes('l')) { ctx.moveTo(a.left, p); ctx.lineTo(a.left + len, p); }
          if (ax.sides.includes('r')) { ctx.moveTo(a.right, p); ctx.lineTo(a.right - len, p); }
        }
      };
      ctx.beginPath();
      ax.major.forEach(v => mark(v, cfg.major || 4));
      (ax.minor || []).forEach(v => mark(v, cfg.minor || 2));
      ctx.stroke();
    }
    ctx.lineWidth = cfg.lw;
    ctx.strokeRect(a.left, a.top, a.right - a.left, a.bottom - a.top);
    ctx.restore();
  }
};

function ax(pos, type, range, ticks, size, fmt, font, pad) {
  const horiz = pos === 'bottom' || pos === 'top';
  return {
    type, position: pos, min: range[0], max: range[1], bounds: 'data',
    grid: {display: false, drawTicks: false},
    border: {display: false},
    afterBuildTicks: s => { s.ticks = ticks.map(v => ({value: v})); },
    afterFit: s => {
      if (horiz) { s.height = size; s.paddingLeft = 0; s.paddingRight = 0; }
      else { s.width = size; s.paddingTop = 0; s.paddingBottom = 0; }
    },
    ticks: {display: !!fmt, callback: fmt ? (v => fmt(v)) : (() => ''), padding: pad == null ? 4 : pad,
      autoSkip: false, maxRotation: 0, minRotation: 0, color: '#000',
      font: font || {family: 'DejaVu Sans', size: 11}}
  };
}
const hidden = (range, type) => ({type: type || 'linear', display: false, min: range[0], max: range[1], bounds: 'data'});

function mk(id, area, pad, datasets, scales, frame, extra) {
  const [l, t, r, b] = area, [pl, pt, pr, pb] = pad;
  const c = document.createElement('canvas');
  c.id = id;
  c.width = r - l + pl + pr; c.height = b - t + pt + pb;
  c.style.left = (l - pl) + 'px'; c.style.top = (t - pt) + 'px';
  document.getElementById('fig').appendChild(c);
  frameCfg[id] = frame;
  return new Chart(c, {
    type: 'scatter',
    data: {datasets},
    options: Object.assign({
      responsive: false, animation: false, devicePixelRatio: 1, events: [],
      layout: {padding: {left: 0, top: pt, right: pr, bottom: 0}},
      plugins: {legend: {display: false}, tooltip: {enabled: false}},
      scales
    }, extra || {}),
    plugins: [errBars, frameTicks]
  });
}

// ---------------- panel a ----------------
const L = 96, R = 539;
const aFrame = (yMajor, yMinor) => ({lw: 1.6, major: 4, minor: 2, axes: [
  {id: 'x', major: aTimeTicks, minor: linMinor(-15, 60, 2), sides: 'tb'},
  {id: 'y', major: yMajor, minor: yMinor, sides: 'lr'}]});
const sqStyle = {pointStyle: 'rect', pointRadius: 4.8, pointBackgroundColor: '#1f77b4', pointBorderColor: 'rgba(31,119,180,0.4)', pointBorderWidth: 1.5};
const dotLine = {borderColor: 'rgba(31,119,180,0.6)', borderWidth: 1.2, borderDash: [1.5, 1.8]};

mk('a1', [L, 64, R, 306], [60, 4, 4, 3], [
  line(pairPts(lcPoints), '#1f77b4', 1.6),
  line([{x: tRangeA[0], y: 0}, {x: tRangeA[1], y: 0}], '#000', 1.2, {borderDash: [4, 3]})
], {
  x: ax('bottom', 'linear', tRangeA, aTimeTicks, 3),
  y: ax('left', 'linear', rateRange, rateTicks, 60, numLabel(1), null, 6)
}, aFrame(rateTicks, linMinor(-0.2, 2.9, 0.1)));

mk('a2', [L, 306, R, 427], [60, 4, 4, 3], [
  Object.assign({data: pts(binTime, alphaVals), showLine: true, errY: errFor(alphaErr), errColor: 'rgba(31,119,180,0.85)', errWidth: 1.3}, dotLine, sqStyle)
], {
  x: ax('bottom', 'linear', tRangeA, aTimeTicks, 3),
  y: ax('left', 'linear', alphaRange, alphaTicks, 60, numLabel(1), null, 6)
}, aFrame(alphaTicks, linMinor(-2.8, -0.6, 0.1)));

mk('a3', [L, 427, R, 549], [60, 4, 4, 3], [
  Object.assign({data: pts(binTime, fluxVals), showLine: true, errY: errFor(fluxErr), errColor: 'rgba(31,119,180,0.85)', errWidth: 1.3}, dotLine, sqStyle),
  line(pts(fitRiseT, fitRiseF), '#b22222', 2.2, {cubicInterpolationMode: 'monotone'}),
  line(pts(fitDecayT, fitDecayF), '#ff1a1a', 1.1, {borderDash: [5, 2, 1, 2], cubicInterpolationMode: 'monotone'}),
  line(pts(fitTurbT, fitTurbF), '#e060e0', 1.5, {borderDash: [5, 3], cubicInterpolationMode: 'monotone'}),
  {data: pts(extTime, extFlux), pointStyle: 'circle', pointRadius: 3.3, pointBackgroundColor: 'rgba(0,0,0,0.35)', pointBorderColor: '#000', pointBorderWidth: 1.5,
   errX: extTimeErr, errY: extFluxErr, errColor: '#444', errWidth: 1.8}
], {
  x: ax('bottom', 'linear', tRangeA, aTimeTicks, 3),
  y: ax('left', 'logarithmic', fluxRange, fluxTicks, 60, decLabel, null, 6)
}, aFrame(fluxTicks, logMinor(-9, -5)));

mk('a4', [L, 549, R, 669], [60, 4, 4, 22], [
  Object.assign({data: pts(binTime, lisoVals), showLine: true, errY: errFor(lisoErr), errColor: 'rgba(31,119,180,0.85)', errWidth: 1.3}, dotLine, sqStyle),
  line(pts(fitL1T, fitL1V), '#1a1a8c', 2, {borderDash: [6, 2, 1.5, 2], cubicInterpolationMode: 'monotone'}),
  line(pts(fitL2T, fitL2V), '#ffa500', 2, {borderDash: [5, 3], cubicInterpolationMode: 'monotone'}),
  line(pts(fitL3T, fitL3V), '#b22222', 2, {cubicInterpolationMode: 'monotone'})
], {
  x: ax('bottom', 'linear', tRangeA, aTimeTicks, 22, numLabel(0), null, 3),
  y: ax('left', 'logarithmic', lisoRange, lisoTicks, 60, decLabel, null, 6)
}, aFrame(lisoTicks, logMinor(49, 52)));

// ---------------- panel b ----------------
const cyan = '#17c6f2', grey = '#a6a6a6';
const bFrame = (axes) => ({lw: 1.2, color: '#111', major: 4, minor: 2, axes});
const durMinor = logMinor(-2, 2), mvtMinor = logMinor(-3, 1);
const starImg = (() => {
  const c = document.createElement('canvas'); c.width = c.height = 15;
  const g = c.getContext('2d'); g.beginPath();
  for (let k = 0; k < 10; k++) { const r = k % 2 ? 2.9 : 7, an = -Math.PI / 2 + k * Math.PI / 5; g.lineTo(7.5 + r * Math.cos(an), 7.8 + r * Math.sin(an)); }
  g.closePath(); g.fillStyle = '#000'; g.fill();
  return c;
})();
const dashed = {borderDash: [5, 3]};

mk('b1', [603, 48, 892, 131], [40, 4, 4, 3], [
  line(stepHist(durEdgesI, durCountsI, false), 'rgba(0,0,0,0)', 0, {stepped: 'before', fill: 'origin', backgroundColor: 'rgba(160,160,160,0.7)'}),
  line(stepHist(durEdgesII, durCountsII, false), 'rgba(0,0,0,0)', 0, {stepped: 'before', fill: 'origin', backgroundColor: 'rgba(23,198,242,0.75)'}),
  line([{x: grbNew[0], y: durCountRange[0]}, {x: grbNew[0], y: durCountRange[1]}], '#000', 1.5, dashed)
], {
  x: ax('bottom', 'logarithmic', durRange, durTicks, 3),
  y: ax('left', 'linear', durCountRange, durCountTicks, 40, numLabel(0), null, 6)
}, bFrame([{id: 'x', major: durTicks, minor: durMinor, sides: 'tb'}, {id: 'y', major: durCountTicks, minor: linMinor(0, 45, 5), sides: 'lr'}]));

mk('b2', [603, 131, 892, 371], [40, 4, 4, 24], [
  {data: logPts(typeI), pointRadius: 2.5, pointBackgroundColor: grey, pointBorderWidth: 0},
  {data: logPts(typeII), pointRadius: 2.6, pointBackgroundColor: cyan, pointBorderWidth: 0},
  line(logPts(ctrII3), '#440154', 1.8, {tension: 0.35}),
  line(logPts(ctrII2), '#31688e', 1.8, {tension: 0.35}),
  line(logPts(ctrII1), '#f2e11c', 1.8, {tension: 0.35}),
  line(logPts(ctrI3), '#440154', 1.8, {tension: 0.35}),
  line(logPts(ctrI2), '#31688e', 1.8, {tension: 0.35}),
  line(logPts(ctrI1), '#f2e11c', 1.8, {tension: 0.35}),
  line([{x: grbNew[0], y: mvtRange[0]}, {x: grbNew[0], y: mvtRange[1]}], '#000', 1.5, dashed),
  line([{x: durRange[0], y: grbNew[1]}, {x: durRange[1], y: grbNew[1]}], '#000', 1.5, dashed),
  {data: [{x: grbOld[0], y: grbOld[1]}], pointRadius: 5, pointBackgroundColor: 'rgba(0,0,0,0)', pointBorderColor: '#ff0000', pointBorderWidth: 1.6},
  {data: [{x: grbNew[0], y: grbNew[1]}], pointStyle: starImg}
], {
  x: ax('bottom', 'logarithmic', durRange, durTicks, 24, decLabel, null, 5),
  y: ax('left', 'logarithmic', mvtRange, mvtTicks, 40, decLabel, null, 6)
}, bFrame([{id: 'x', major: durTicks, minor: durMinor, sides: 'tb'}, {id: 'y', major: mvtTicks, minor: mvtMinor, sides: 'lr'}]));

mk('b3', [892, 131, 975, 371], [3, 4, 8, 24], [
  line(stepHist(mvtEdgesII, mvtCountsII, true), 'rgba(0,0,0,0)', 0, {stepped: 'after', fill: 'origin', backgroundColor: 'rgba(23,198,242,0.75)'}),
  line(stepHist(mvtEdgesI, mvtCountsI, true), 'rgba(0,0,0,0)', 0, {stepped: 'after', fill: 'origin', backgroundColor: 'rgba(150,150,150,0.6)'}),
  line([{x: mvtCountRange[0], y: grbNew[1]}, {x: mvtCountRange[1], y: grbNew[1]}], '#000', 1.5, dashed)
], {
  x: ax('bottom', 'linear', mvtCountRange, mvtCountTicks, 24, numLabel(0), null, 5),
  y: ax('left', 'logarithmic', mvtRange, mvtTicks, 3)
}, bFrame([{id: 'x', major: mvtCountTicks, minor: linMinor(0, 60, 10), sides: 'tb'}, {id: 'y', major: mvtTicks, minor: mvtMinor, sides: 'lr'}]),
{indexAxis: 'y'});

// ---------------- panel c ----------------
const serif = {family: 'DejaVu Serif', size: 11};
const cBlue = '#1f77b4', cOrange = '#ffa500', cRed = '#b22222';
const mBlue = '#1f62a8', mRed = '#b8262b';
const cFrame = (axes) => ({lw: 1.6, major: 4, minor: 2, axes});
const cMinorT = linMinor(-8, 48, 2);
const fwhmErr = arr => arr.map(([, v]) => [v / 10 ** fwhmErrDex, v * 10 ** fwhmErrDex]);
const vline = (x, color, dash) => line([{x, y: cumRange[0]}, {x, y: cumRange[1]}], color, 1.6, {borderDash: dash});

mk('c1', [603, 419, 911, 484], [40, 4, 4, 3], [
  line([{x: tRangeC[0], y: 0}, {x: tRangeC[1], y: 0}], '#555', 1, {borderDash: [2, 2]}),
  line([{x: tRangeC[0], y: 1.02}, {x: tRangeC[1], y: 1.02}], '#555', 1, {borderDash: [2, 2]}),
  line(pts(cumTime, cumBlue), cBlue, 1.6),
  line(pts(cumTime, cumOrange), cOrange, 1.6),
  line(pts(cumTime, cumRed), cRed, 1.6),
  vline(t90Start[0], cBlue, [5, 3]), vline(t90End[0], cBlue, [5, 3]),
  vline(t90Start[1], '#ff8c00', [5, 2, 1.5, 2]), vline(t90End[1], '#ff8c00', [5, 2, 1.5, 2]),
  vline(t90Start[2], '#e03020', [5, 2, 1.5, 2]), vline(t90End[2], '#e03020', [5, 2, 1.5, 2])
], {
  x: ax('bottom', 'linear', tRangeC, cTimeTicks, 3),
  y: ax('left', 'linear', cumRange, cumTicks, 40, numLabel(1), serif, 5)
}, cFrame([{id: 'x', major: cTimeTicks, minor: cMinorT, sides: 'tb'}, {id: 'y', major: cumTicks, minor: linMinor(0, 1, 0.1), sides: 'lr'}]));

mk('c2', [603, 484, 911, 676], [40, 4, 4, 16], [
  line(pairPts(lcPoints), '#c4c4c4', 1.2, {yAxisID: 'y2', stepped: 'before'}),
  {data: pairPts(pulsesLow), pointStyle: 'rect', pointRadius: 4, pointBackgroundColor: mBlue, pointBorderWidth: 0, errY: fwhmErr(pulsesLow), errColor: mBlue, errWidth: 1.5},
  {data: pairPts(pulsesMid), pointStyle: 'rectRot', pointRadius: 4.2, pointBackgroundColor: cOrange, pointBorderWidth: 0, errY: fwhmErr(pulsesMid), errColor: cOrange, errWidth: 1.5},
  {data: pairPts(pulsesHigh), pointStyle: 'circle', pointRadius: 3.1, pointBackgroundColor: mRed, pointBorderWidth: 0, errY: fwhmErr(pulsesHigh), errColor: mRed, errWidth: 1.5}
], {
  x: ax('bottom', 'linear', tRangeC, cTimeTicks, 16, numLabel(0), serif, 0),
  y: ax('left', 'logarithmic', fwhmRange, fwhmTicks, 40, decLabel, serif, 5),
  y2: hidden(lcRangeC)
}, cFrame([{id: 'x', major: cTimeTicks, minor: cMinorT, sides: 'tb'}, {id: 'y', major: fwhmTicks, minor: logMinor(-2, 2), sides: 'lr'}]));

const stat = (i, color, style, r) => ({data: [{x: pulseStats[i][0], y: pulseStats[i][1]}], pointStyle: style, pointRadius: r, pointBackgroundColor: color, pointBorderWidth: 0,
  errY: [[pulseStats[i][2], pulseStats[i][3]]], errColor: color, errWidth: 2, errCap: 3});
mk('c3', [911, 484, 995, 676], [3, 4, 8, 16], [
  line(stepHist(pulseEdgesLow, pulseCountsLow, true), 'rgba(31,100,170,0.6)', 4, {stepped: 'after'}),
  line(stepHist(pulseEdgesMid, pulseCountsMid, true), 'rgba(255,165,0,0.6)', 4, {stepped: 'after'}),
  line(stepHist(pulseEdgesHigh, pulseCountsHigh, true), 'rgba(178,34,34,0.6)', 4, {stepped: 'after'}),
  stat(0, mBlue, 'rect', 4), stat(1, cOrange, 'rectRot', 4), stat(2, mRed, 'circle', 3)
], {
  x: ax('bottom', 'linear', pulseRange, pulseTicks, 16, numLabel(0), serif, 0),
  y: ax('left', 'logarithmic', fwhmRange, fwhmTicks, 3)
}, cFrame([{id: 'x', major: pulseTicks, minor: linMinor(2, 24, 2), sides: 'tb'}, {id: 'y', major: fwhmTicks, minor: logMinor(-2, 2), sides: 'lr'}]),
{indexAxis: 'y'});
</script>

<div style="position:absolute;left:604px;top:489px;width:300px;height:24px;border:1.5px solid #000;background:#fff;font-family:'DejaVu Serif',serif;font-size:10px;">
  <svg style="position:absolute;left:7px;top:6px" width="10" height="14"><line x1="5" y1="0" x2="5" y2="14" stroke="#1f62a8" stroke-width="1.5"/><rect x="2" y="4" width="6" height="6" fill="#1f62a8"/></svg>
  <div class="tx" style="left:24px;top:2px">60-200 keV</div>
  <div class="tx" style="left:24px;top:12px"><i>T</i><sub>90</sub> = 38.4<span class="ud"><span>+2.4</span><span>−1.1</span></span> s</div>
  <svg style="position:absolute;left:111px;top:6px" width="10" height="14"><line x1="5" y1="0" x2="5" y2="14" stroke="#ffa500" stroke-width="1.5"/><polygon points="5,2.5 9,7 5,11.5 1,7" fill="#ffa500"/></svg>
  <div class="tx" style="left:130px;top:2px">200-500 keV</div>
  <div class="tx" style="left:130px;top:12px"><i>T</i><sub>90</sub> = 36.3<span class="ud"><span>+0.2</span><span>−0.1</span></span> s</div>
  <svg style="position:absolute;left:215px;top:6px" width="10" height="14"><line x1="5" y1="0" x2="5" y2="14" stroke="#b8262b" stroke-width="1.5"/><circle cx="5" cy="7" r="3" fill="#b8262b"/></svg>
  <div class="tx" style="left:234px;top:2px">500-900 keV</div>
  <div class="tx" style="left:234px;top:12px"><i>T</i><sub>90</sub> = 36.2<span class="ud"><span>+1.4</span><span>−0.6</span></span> s</div>
</div>
</body>
</html>
